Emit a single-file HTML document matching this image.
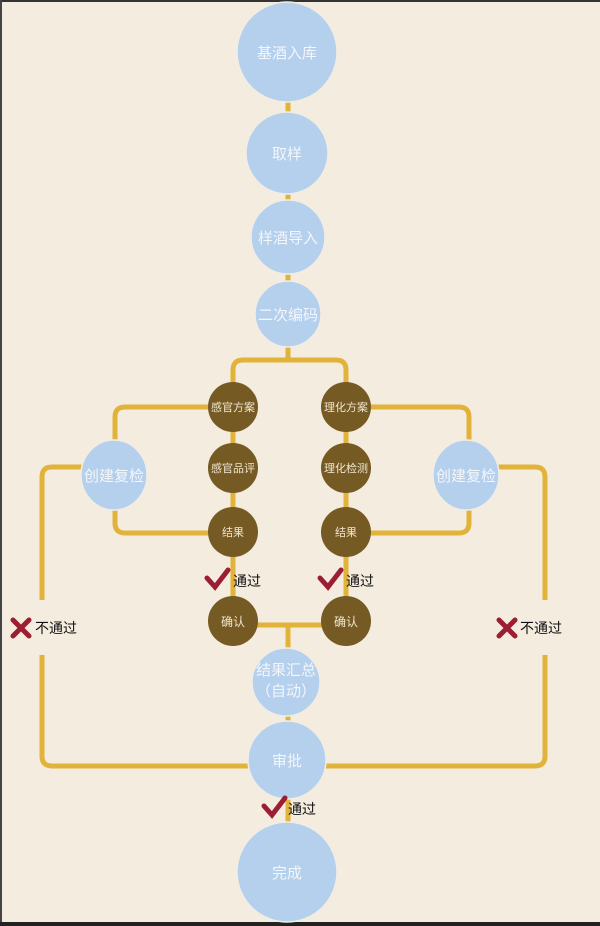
<!DOCTYPE html>
<html><head><meta charset="utf-8"><style>
html,body{margin:0;padding:0;background:#f4ecdf;}
svg{display:block;}
text{font-family:"Liberation Sans","Noto Sans CJK SC",sans-serif;}
</style></head><body>
<svg width="600" height="926" viewBox="0 0 600 926" xmlns="http://www.w3.org/2000/svg">
<rect width="600" height="926" fill="#f4ecdf"/>
<rect x="0" y="0" width="600" height="2" fill="#333"/>
<rect x="0" y="0" width="2" height="926" fill="#444"/>
<rect x="0" y="922" width="600" height="4" fill="#222"/>
<g fill="none" stroke="#e2b33a" stroke-width="5" stroke-linejoin="round">
<line x1="288" y1="90" x2="288" y2="361"/>
<line x1="288" y1="625" x2="288" y2="860"/>
<path d="M233 420 V370 Q233 360 243 360 H336 Q346 360 346 370 V630"/>
<line x1="233" y1="420" x2="233" y2="630"/>
<line x1="233" y1="625" x2="346" y2="625"/>
<path d="M233 407 H125 Q115 407 115 417 V445"/>
<path d="M115 505 V523 Q115 533 125 533 H233"/>
<path d="M346 407 H459 Q469 407 469 417 V445"/>
<path d="M469 505 V523 Q469 533 459 533 H346"/>
<path d="M100 467 H52 Q42 467 42 477 V600"/>
<path d="M42 655 V756 Q42 766 52 766 H288"/>
<path d="M440 467 H535 Q545 467 545 477 V600"/>
<path d="M545 655 V756 Q545 766 535 766 H288"/>
</g>
<g fill="#b4d0ec" stroke="#f2ede4" stroke-width="1.5">
<circle cx="287" cy="52" r="50"/>
<circle cx="287" cy="153" r="41"/>
<circle cx="288" cy="237" r="37"/>
<circle cx="288" cy="314" r="33"/>
<ellipse cx="114" cy="475" rx="33" ry="35"/>
<ellipse cx="466" cy="475" rx="33" ry="35"/>
<circle cx="286" cy="682" r="34"/>
<circle cx="287" cy="760" r="39"/>
<circle cx="287" cy="872" r="50"/>
</g>
<g fill="#765a24">
<circle cx="233" cy="407" r="25"/>
<circle cx="233" cy="468" r="25"/>
<circle cx="233" cy="532" r="25"/>
<circle cx="233" cy="621" r="25"/>
<circle cx="346" cy="407" r="25"/>
<circle cx="346" cy="468" r="25"/>
<circle cx="346" cy="532" r="25"/>
<circle cx="346" cy="621" r="25"/>
</g>
<g fill="#f3f6fb" text-anchor="middle" font-size="15">
<text x="287" y="58">基酒入库</text>
<text x="287" y="159">取样</text>
<text x="288" y="243">样酒导入</text>
<text x="288" y="320">二次编码</text>
<text x="114" y="481">创建复检</text>
<text x="466" y="481">创建复检</text>
<text x="286" y="675">结果汇总</text>
<text x="286" y="696">（自动）</text>
<text x="287" y="766">审批</text>
<text x="287" y="878">完成</text>
</g>
<g fill="#f0e6d0" text-anchor="middle" font-size="11">
<text x="233" y="411">感官方案</text>
<text x="233" y="472">感官品评</text>
<text x="233" y="536">结果</text>
<text x="233" y="626" font-size="12">确认</text>
<text x="346" y="411">理化方案</text>
<text x="346" y="472">理化检测</text>
<text x="346" y="536">结果</text>
<text x="346" y="626" font-size="12">确认</text>
</g>
<g fill="none" stroke="#9b1e32" stroke-width="5" stroke-linecap="round">
<path d="M207 578 L215 587 L228 570"/>
<path d="M320 578 L328 587 L341 570"/>
<path d="M264 806 L272 815 L285 798"/>
<path d="M13 620 L29 636 M29 620 L13 636"/>
<path d="M499 620 L515 636 M515 620 L499 636"/>
</g>
<g fill="#111" font-size="14">
<text x="233" y="586">通过</text>
<text x="346" y="586">通过</text>
<text x="288" y="814">通过</text>
<text x="35" y="633">不通过</text>
<text x="520" y="633">不通过</text>
</g>
</svg>
</body></html>
